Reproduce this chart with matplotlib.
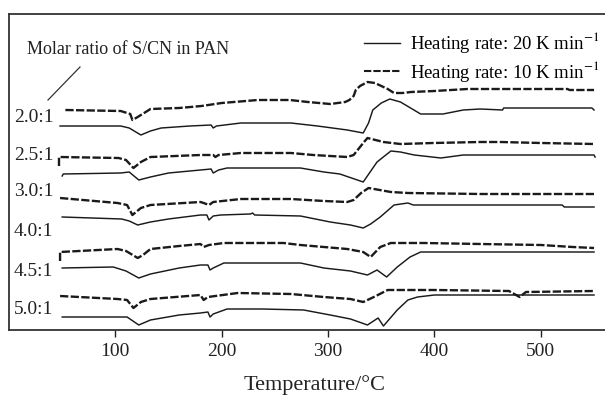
import matplotlib
matplotlib.use("Agg")
import matplotlib.pyplot as plt
from matplotlib.lines import Line2D

plt.rcParams['font.family'] = ['Liberation Serif', 'DejaVu Serif']
plt.rcParams['mathtext.fontset'] = 'stix'

# DSC traces, (temperature in degC, signal in a.u.), offset per sample
d1_T = [53, 105, 114, 116, 121, 133, 160, 181, 200, 234, 264, 281, 302, 316, 320, 324, 326, 330, 337, 344, 350, 356, 362, 370, 378, 400, 431, 460, 525, 527, 550]
d1_y = [220, 219, 216, 210, 213, 221, 222, 224, 227, 230, 230, 228, 226, 228, 230, 234, 240, 244, 248, 247, 244, 241, 237, 237, 238, 239, 241, 241, 241, 240, 240]
s1_T = [48, 105, 113, 124, 133, 143, 170, 190, 192, 195, 218, 265, 290, 318, 333, 338, 342, 350, 358, 368, 387, 408, 427, 443, 464, 465, 548, 550]
s1_y = [204, 204, 202, 195, 199, 202, 204, 205, 202, 204, 207, 207, 204, 200, 197, 207, 220, 227, 231, 228, 216, 216, 220, 221, 220, 222, 222, 220]

d2_T = [47, 47, 103, 110, 117, 124, 133, 180, 192, 194, 197, 218, 265, 286, 318, 324, 330, 333, 337, 352, 368, 399, 443, 462, 500, 550]
d2_y = [164, 173, 172, 170, 162, 168, 173, 175, 175, 173, 175, 177, 177, 175, 173, 175, 183, 187, 192, 188, 186, 187, 188, 188, 187, 186]
s2_T = [50, 51, 105, 113, 122, 133, 150, 180, 190, 192, 197, 205, 274, 296, 311, 333, 346, 359, 368, 381, 406, 427, 550, 551]
s2_y = [154, 156, 157, 158, 150, 153, 157, 160, 161, 157, 160, 162, 162, 158, 156, 148, 168, 179, 178, 175, 172, 175, 175, 173]

d3_T = [48, 102, 111, 116, 124, 133, 180, 183, 188, 192, 218, 265, 296, 318, 324, 331, 338, 359, 375, 443, 550]
d3_y = [132, 127, 125, 115, 122, 125, 128, 127, 125, 128, 131, 131, 129, 128, 130, 137, 142, 138, 137, 136, 136]
s3_T = [50, 106, 113, 121, 133, 150, 180, 186, 188, 192, 199, 227, 229, 231, 274, 302, 321, 333, 340, 349, 362, 375, 380, 520, 522, 550]
s3_y = [113, 111, 109, 105, 108, 111, 115, 115, 110, 114, 115, 116, 117, 115, 114, 108, 105, 102, 106, 113, 125, 127, 125, 125, 123, 123]

d4_T = [48, 48, 102, 110, 121, 126, 133, 160, 180, 183, 188, 202, 258, 274, 318, 333, 340, 349, 359, 390, 443, 500, 530, 550]
d4_y = [69, 78, 81, 79, 72, 75, 81, 84, 86, 83, 85, 87, 87, 85, 81, 78, 73, 83, 87, 87, 86, 85, 83, 82]
s4_T = [50, 98, 110, 122, 133, 160, 180, 187, 189, 192, 202, 274, 296, 321, 337, 346, 355, 365, 377, 387, 550]
s4_y = [62, 63, 59, 52, 56, 62, 65, 65, 60, 62, 67, 67, 62, 59, 55, 60, 53, 63, 73, 78, 78]

d5_T = [48, 102, 111, 117, 124, 133, 180, 183, 187, 215, 265, 296, 321, 333, 343, 356, 400, 470, 480, 486, 550]
d5_y = [34, 31, 30, 22, 28, 31, 35, 30, 33, 37, 36, 33, 31, 28, 33, 40, 40, 39, 33, 38, 39]
s5_T = [50, 111, 122, 133, 160, 180, 187, 189, 192, 205, 238, 277, 302, 321, 337, 347, 352, 365, 375, 384, 400, 550]
s5_y = [13, 13, 5, 10, 15, 17, 18, 13, 16, 21, 21, 20, 15, 11, 5, 12, 4, 20, 30, 33, 35, 35]

ratios = ['2.0:1', '2.5:1', '3.0:1', '4.0:1', '4.5:1', '5.0:1']
ratio_y = [117, 155, 192, 232, 272, 310]  # label rows, px from top
xticks = [100, 200, 300, 400, 500]

W, H = 605, 396
fig = plt.figure(figsize=(W / 100, H / 100), dpi=100)
ax = fig.add_axes([9 / W, 66 / H, 601 / W, 316 / H])

ink = '#1a1a1a'
dashed = [(d1_T, d1_y), (d2_T, d2_y), (d3_T, d3_y), (d4_T, d4_y), (d5_T, d5_y)]
solid = [(s1_T, s1_y), (s2_T, s2_y), (s3_T, s3_y), (s4_T, s4_y), (s5_T, s5_y)]
for T, y in solid:
    ax.plot(T, y, color=ink, lw=1.05)
for T, y in dashed:
    ax.plot(T, y, color=ink, lw=1.7, dashes=(3.5, 1.0))

ax.set_xlim(0, 565)
ax.set_ylim(0, 316)
ax.set_xticks(xticks)
ax.set_yticks([])
ax.tick_params(axis='x', direction='out', length=5, width=1.0, pad=4.5,
               labelsize=14, colors='#222')
for side in ['left', 'top', 'bottom', 'right']:
    ax.spines[side].set_linewidth(1.3)
    ax.spines[side].set_color('#333')

handles = [Line2D([], [], color=ink, lw=1.0),
           Line2D([], [], color=ink, lw=1.5, dashes=(3.5, 1.0))]
ax.legend(handles, ['Heating rate: 20 K min$^{-1}$', 'Heating rate: 10 K min$^{-1}$'],
          loc='upper left', bbox_to_anchor=(355 / W, 1 - 21 / H),
          bbox_transform=fig.transFigure, frameon=False, borderpad=0,
          handlelength=1.9, handletextpad=0.55, labelspacing=0.18, fontsize=13.5)

for lab, py in zip(ratios, ratio_y):
    fig.text(14 / W, 1 - py / H, lab, fontsize=14, va='center', ha='left', color='#222')

fig.text(27 / W, 1 - 50 / H, 'Molar ratio of S/CN in PAN', fontsize=13,
         va='center', ha='left', color='#222')
fig.add_artist(Line2D([48 / W, 80 / W], [1 - 100 / H, 1 - 67 / H],
                      transform=fig.transFigure, color='#333', lw=0.9))

fig.text(315 / W, 6 / H, 'Temperature/°C', fontsize=16, ha='center',
         va='baseline', color='#222')

fig.savefig('out.png', dpi=100)
